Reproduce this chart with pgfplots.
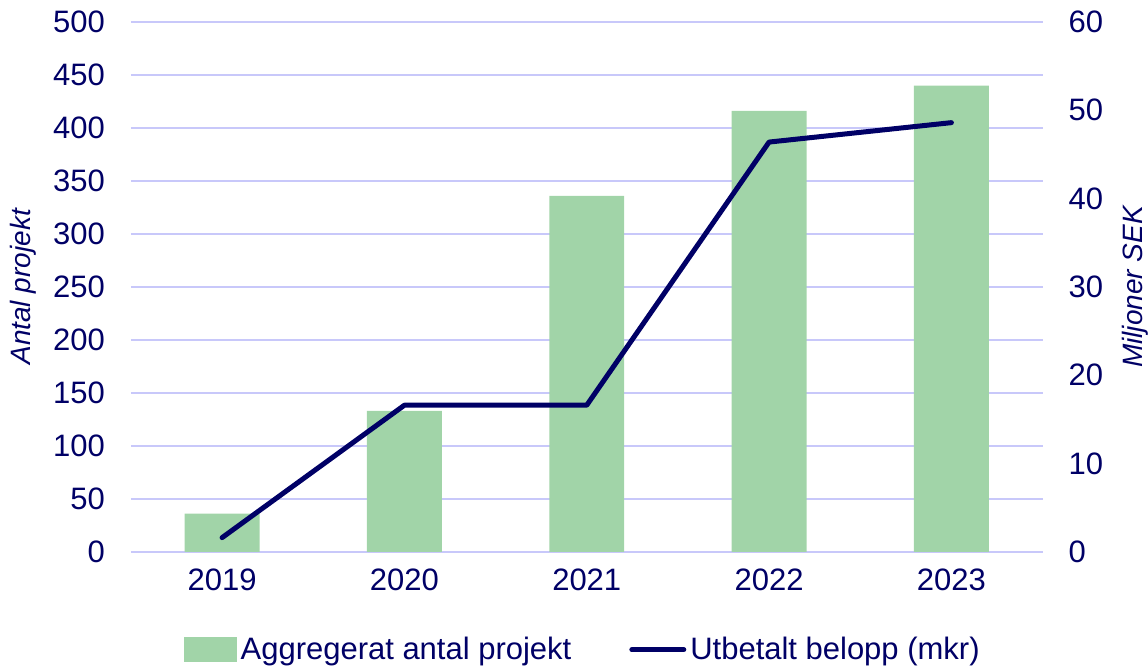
\documentclass[border=0pt]{standalone}
\usepackage{pgfplots}
\pgfplotsset{compat=1.18}
\usepackage{fontspec}
\setmainfont{Liberation Sans}
\definecolor{navy}{RGB}{0,0,102}
\definecolor{barc}{RGB}{161,212,168}
\definecolor{gridc}{RGB}{200,200,250}
\begin{document}
\begin{tikzpicture}[font=\fontsize{15.5}{18}\selectfont]
\begin{axis}[
  scale only axis, width=456pt, height=265pt,
  xmin=-0.5, xmax=4.5, ymin=0, ymax=500,
  xtick={0,1,2,3,4}, xticklabels={2019,2020,2021,2022,2023},
  ytick={0,50,...,500},
  ymajorgrids, grid style={color=gridc, line width=1pt},
  axis line style={draw=none}, major tick length=0pt,
  /pgf/number format/assume math mode=true,
  tick label style={color=navy, font=\fontsize{15.5}{18}\selectfont},
  yticklabel style={xshift=-9.5pt},
  xticklabel style={yshift=-5pt},
  ylabel={Antal projekt},
  ylabel style={color=navy, font=\fontsize{14}{17}\selectfont\itshape,
    at={([xshift=-47pt]rel axis cs:0,0.5)}, anchor=south, inner sep=0pt},
]
\addplot[ybar, bar width=37.5pt, fill=barc, draw=none] coordinates {(0,36) (1,133) (2,336) (3,416) (4,440)};
\coordinate (sw) at (rel axis cs:0,0);
\coordinate (ne) at (rel axis cs:1,1);
\end{axis}
\begin{axis}[
  scale only axis, width=456pt, height=265pt,
  xmin=-0.5, xmax=4.5, ymin=0, ymax=60,
  axis y line*=right, hide x axis,
  ytick={0,10,...,60},
  axis line style={draw=none}, major tick length=0pt,
  /pgf/number format/assume math mode=true,
  tick label style={color=navy, font=\fontsize{15.5}{18}\selectfont},
  yticklabel style={xshift=9.5pt},
  ylabel={Miljoner SEK},
  ylabel style={color=navy, font=\fontsize{14}{17}\selectfont\itshape,
    at={([xshift=39.5pt]rel axis cs:1,0.5)}, anchor=north, inner sep=0pt},
  legend columns=2,
  legend style={draw=none, fill=none, at={(0.5,0)}, anchor=center, yshift=-49pt, xshift=-2pt,
    text=navy, font=\fontsize{15.5}{18}\selectfont,
    /tikz/every odd column/.append style={column sep=1pt},
    /tikz/every even column/.append style={column sep=28pt},
    inner sep=0pt, nodes={inner sep=1pt}},
]
\addlegendimage{legend image code/.code={\fill[barc] (0pt,-6pt) rectangle (26pt,6pt);}}
\addlegendentry{Aggregerat antal projekt}
\addplot[navy, line width=2.5pt, line cap=round, line join=round,
  legend image code/.code={\draw[navy, line width=2.5pt] (0pt,0pt) -- (26pt,0pt);}]
  coordinates {(0,1.6) (1,16.6) (2,16.6) (3,46.4) (4,48.6)};
\addlegendentry{Utbetalt belopp (mkr)}
\end{axis}
\path (sw) ++(-65.5pt,-58.5pt);
\path (ne) ++(52.5pt,11pt);
\end{tikzpicture}
\end{document}
